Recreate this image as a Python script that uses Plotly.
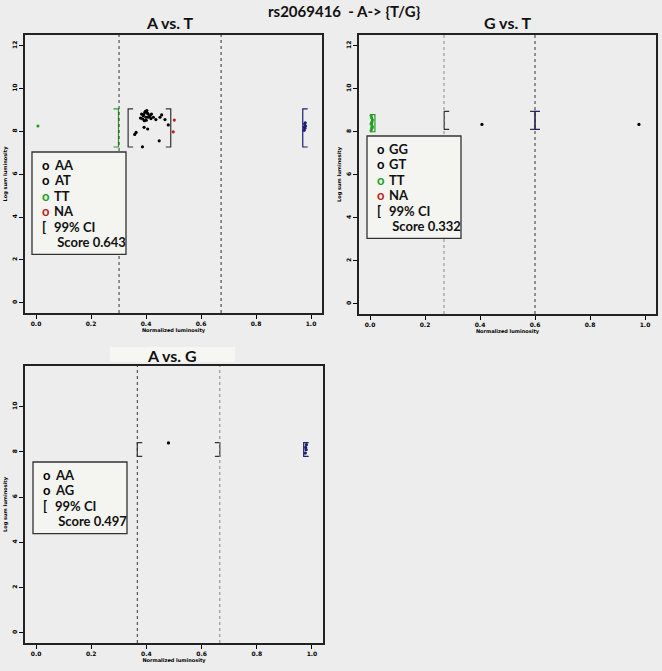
import plotly.graph_objects as go

# ---------------------------------------------------------------- data
x_ticks = [0.0, 0.2, 0.4, 0.6, 0.8, 1.0]
x_tick_text = ['0.0', '0.2', '0.4', '0.6', '0.8', '1.0']
y_ticks = [0, 2, 4, 6, 8, 10, 12]

# panel 1 : A vs. T
at_thr = [0.302, 0.673]
at_AA_x = [0.975, 0.978, 0.980, 0.977, 0.979, 0.976]
at_AA_y = [8.05, 8.15, 8.25, 8.34, 8.40, 8.20]
at_AT_x = [0.384, 0.390, 0.396, 0.403, 0.408, 0.415, 0.400, 0.388, 0.394, 0.408,
           0.420, 0.427, 0.436, 0.451, 0.457, 0.469, 0.481, 0.406, 0.393, 0.364,
           0.359, 0.448, 0.387, 0.398, 0.412, 0.380, 0.405, 0.418, 0.392, 0.401]
at_AT_y = [8.81, 8.73, 8.89, 8.97, 8.81, 8.73, 8.66, 8.58, 8.50, 8.66,
           8.81, 8.66, 8.55, 8.66, 8.77, 8.55, 8.30, 8.11, 8.19, 7.95,
           7.86, 7.56, 7.28, 8.93, 8.70, 8.62, 8.85, 8.60, 8.78, 8.52]
at_TT_x = [0.007]
at_TT_y = [8.25]
at_NA_x = [0.503, 0.499]
at_NA_y = [8.53, 7.98]
at_ci_grp = ['TT', 'AT', 'AT', 'AA']
at_ci_x = [0.300, 0.335, 0.490, 0.970]
at_ci_lo = [7.27, 7.27, 7.27, 7.27]
at_ci_hi = [9.05, 9.05, 9.05, 9.05]
at_ci_side = [']', '[', ']', '[']

# panel 2 : G vs. T
gt_thr = [0.269, 0.600]
gt_GG_x = [0.978]
gt_GG_y = [8.34]
gt_GT_x = [0.407]
gt_GT_y = [8.34]
gt_TT_x = [0.004, 0.006, 0.008, 0.005, 0.007, 0.009, 0.006, 0.004, 0.008, 0.005]
gt_TT_y = [8.05, 8.15, 8.25, 8.35, 8.45, 8.55, 8.65, 8.75, 8.20, 8.40]
gt_NA_x = []
gt_NA_y = []
gt_ci_grp = ['TT', 'GT', 'GT', 'GG']
gt_ci_x = [0.018, 0.270, 0.600, 0.600]
gt_ci_lo = [8.00, 8.11, 8.11, 8.11]
gt_ci_hi = [8.80, 8.95, 8.95, 8.95]
gt_ci_side = [']', '[', ']', '[']

# panel 3 : A vs. G
ag_thr = [0.367, 0.666]
ag_AA_x = [0.976, 0.979, 0.977, 0.980]
ag_AA_y = [7.95, 8.10, 8.20, 8.32]
ag_AG_x = [0.480]
ag_AG_y = [8.40]
ag_ci_grp = ['AG', 'AG', 'AA']
ag_ci_x = [0.367, 0.666, 0.970]
ag_ci_lo = [7.80, 7.80, 7.80]
ag_ci_hi = [8.41, 8.41, 8.41]
ag_ci_side = ['[', ']', '[']

# ---------------------------------------------------------------- style
W, H = 662, 671
BG = '#ededed'
NAVY = '#1f1f70'
GREEN = '#22a022'
RED = '#c02020'
DARK = '#333333'
FONT = 'Lato, Open Sans, sans-serif'

# panel boxes in pixels: left, right, top, bottom
boxes = {'': (25, 322, 35, 313), '2': (359, 656, 35, 314), '3': (25, 323, 366, 643)}
yranges = {'': [-0.48, 12.5], '2': [-0.48, 12.5], '3': [-0.45, 11.8]}


def bracket(x, lo, hi, side, w=0.018):
    d = w if side == '[' else -w
    return [x + d, x, x, x + d], [hi, hi, lo, lo]


fig = go.Figure()


def add_points(ax, xs, ys, color):
    if not xs:
        return
    fig.add_trace(go.Scatter(x=xs, y=ys, mode='markers', xaxis='x' + ax, yaxis='y' + ax,
                             marker=dict(size=3.2, color=color), showlegend=False,
                             hoverinfo='skip'))


def add_cis(ax, grp, xs, lo, hi, side, colors):
    for g, x, l, h, s in zip(grp, xs, lo, hi, side):
        bx, by = bracket(x, l, h, s)
        fig.add_trace(go.Scatter(x=bx, y=by, mode='lines', xaxis='x' + ax, yaxis='y' + ax,
                                 line=dict(color=colors[g], width=1.2), showlegend=False,
                                 hoverinfo='skip'))


def add_thr(ax, thr, colors):
    for t, c in zip(thr, colors):
        fig.add_shape(type='line', xref='x' + ax, yref='y' + ax + ' domain', x0=t, x1=t,
                      y0=0, y1=1, line=dict(color=c, width=1, dash='dot'), layer='above')


def add_legend(ax, left, top, rows, rh=15.4):
    l, r, t, b = boxes[ax]
    fx = lambda px: (px - l) / (r - l)
    fy = lambda py: (b - py) / (b - t)
    n = len(rows)
    fig.add_shape(type='rect', xref='x' + ax + ' domain', yref='y' + ax + ' domain',
                  x0=fx(left), x1=fx(left + 94), y0=fy(top), y1=fy(top + rh * n + 10),
                  fillcolor='#f4f4f1', line=dict(color='#333333', width=1.3))
    for i, (sym, col, txt) in enumerate(rows):
        yy = fy(top + 13 + i * rh)
        if sym:
            fig.add_annotation(xref='x' + ax + ' domain', yref='y' + ax + ' domain',
                               x=fx(left + 8), y=yy, text='<b>' + sym + '</b>', showarrow=False,
                               xanchor='left', yanchor='middle',
                               font=dict(size=13, color=col, family=FONT))
        fig.add_annotation(xref='x' + ax + ' domain', yref='y' + ax + ' domain',
                           x=fx(left + 20), y=yy, text='<b>' + txt + '</b>',
                           showarrow=False, xanchor='left', yanchor='middle',
                           font=dict(size=13, color='#111111', family=FONT))


# panel 1
add_thr('', at_thr, [DARK, DARK])
add_cis('', at_ci_grp, at_ci_x, at_ci_lo, at_ci_hi, at_ci_side,
        {'TT': GREEN, 'AT': DARK, 'AA': NAVY})
add_points('', at_AA_x, at_AA_y, NAVY)
add_points('', at_AT_x, at_AT_y, 'black')
add_points('', at_TT_x, at_TT_y, GREEN)
add_points('', at_NA_x, at_NA_y, RED)
add_legend('', 32, 152, [('o', 'black', 'AA'), ('o', 'black', 'AT'), ('o', GREEN, 'TT'),
                         ('o', RED, 'NA'), ('[', 'black', '99% CI'), ('', '', ' Score 0.643')])

# panel 2
add_thr('2', gt_thr, ['#888888', DARK])
add_cis('2', gt_ci_grp, gt_ci_x, gt_ci_lo, gt_ci_hi, gt_ci_side,
        {'TT': GREEN, 'GT': DARK, 'GG': NAVY})
add_points('2', gt_GG_x, gt_GG_y, 'black')
add_points('2', gt_GT_x, gt_GT_y, 'black')
add_points('2', gt_TT_x, gt_TT_y, GREEN)
add_points('2', gt_NA_x, gt_NA_y, RED)
add_legend('2', 367, 136, [('o', 'black', 'GG'), ('o', 'black', 'GT'), ('o', GREEN, 'TT'),
                           ('o', RED, 'NA'), ('[', 'black', '99% CI'), ('', '', ' Score 0.332')])

# panel 3
add_thr('3', ag_thr, [DARK, '#888888'])
add_cis('3', ag_ci_grp, ag_ci_x, ag_ci_lo, ag_ci_hi, ag_ci_side, {'AG': DARK, 'AA': NAVY})
add_points('3', ag_AA_x, ag_AA_y, NAVY)
add_points('3', ag_AG_x, ag_AG_y, 'black')
add_legend('3', 33, 462, [('o', 'black', 'AA'), ('o', 'black', 'AG'),
                          ('[', 'black', '99% CI'), ('', '', ' Score 0.497')])

# axes
tickf = dict(size=6, color='black', family='DejaVu Sans', weight='bold')
titlef = dict(size=5, color='black', family='DejaVu Sans', weight='bold')
for ax, (l, r, t, b) in boxes.items():
    fig.update_layout({
        'xaxis' + ax: dict(domain=[l / W, r / W], range=[-0.04, 1.04], anchor='y' + ax,
                           tickvals=x_ticks, ticktext=x_tick_text, ticks='outside', ticklen=4,
                           tickcolor='black', showgrid=False, zeroline=False, showline=True,
                           linecolor='#222222', linewidth=1.5, mirror=True, tickfont=tickf,
                           automargin=False,
                           title=dict(text='Normalized luminosity', font=titlef, standoff=3)),
        'yaxis' + ax: dict(domain=[1 - b / H, 1 - t / H], range=yranges[ax], anchor='x' + ax,
                           tickvals=y_ticks, ticks='outside', ticklen=4, tickcolor='black',
                           tickangle=-90, showgrid=False, zeroline=False, showline=True,
                           linecolor='#222222', linewidth=1.5, mirror=True, tickfont=tickf,
                           automargin=False,
                           title=dict(text='Log sum luminosity', font=titlef, standoff=3)),
    })


def title(x, y, text, size):
    fig.add_annotation(xref='paper', yref='paper', x=x / W, y=1 - y / H, showarrow=False,
                       xanchor='center', yanchor='middle', text='<b>' + text + '</b>',
                       font=dict(size=size, family=FONT, color='#111111'))


# titles
title(344, 11, 'rs2069416  - A-> {T/G}', 15)
title(170, 22, 'A vs. T', 16)
title(508, 22, 'G vs. T', 16)
fig.add_shape(type='rect', xref='paper', yref='paper', x0=110 / W, x1=235 / W,
              y0=1 - 362 / H, y1=1 - 347 / H, fillcolor='#f6f6f3', line=dict(width=0))
title(172, 355, 'A vs. G', 16)

fig.update_layout(width=W, height=H, margin=dict(l=0, r=0, t=0, b=0, autoexpand=False),
                  paper_bgcolor=BG, plot_bgcolor=BG, showlegend=False)

# the page body has a default 8px margin; drop it so the figure fills the window
fig.write_html("out.html", config={'displayModeBar': False},
               post_script="document.body.style.margin='0';"
                           "document.body.style.overflow='hidden';")
